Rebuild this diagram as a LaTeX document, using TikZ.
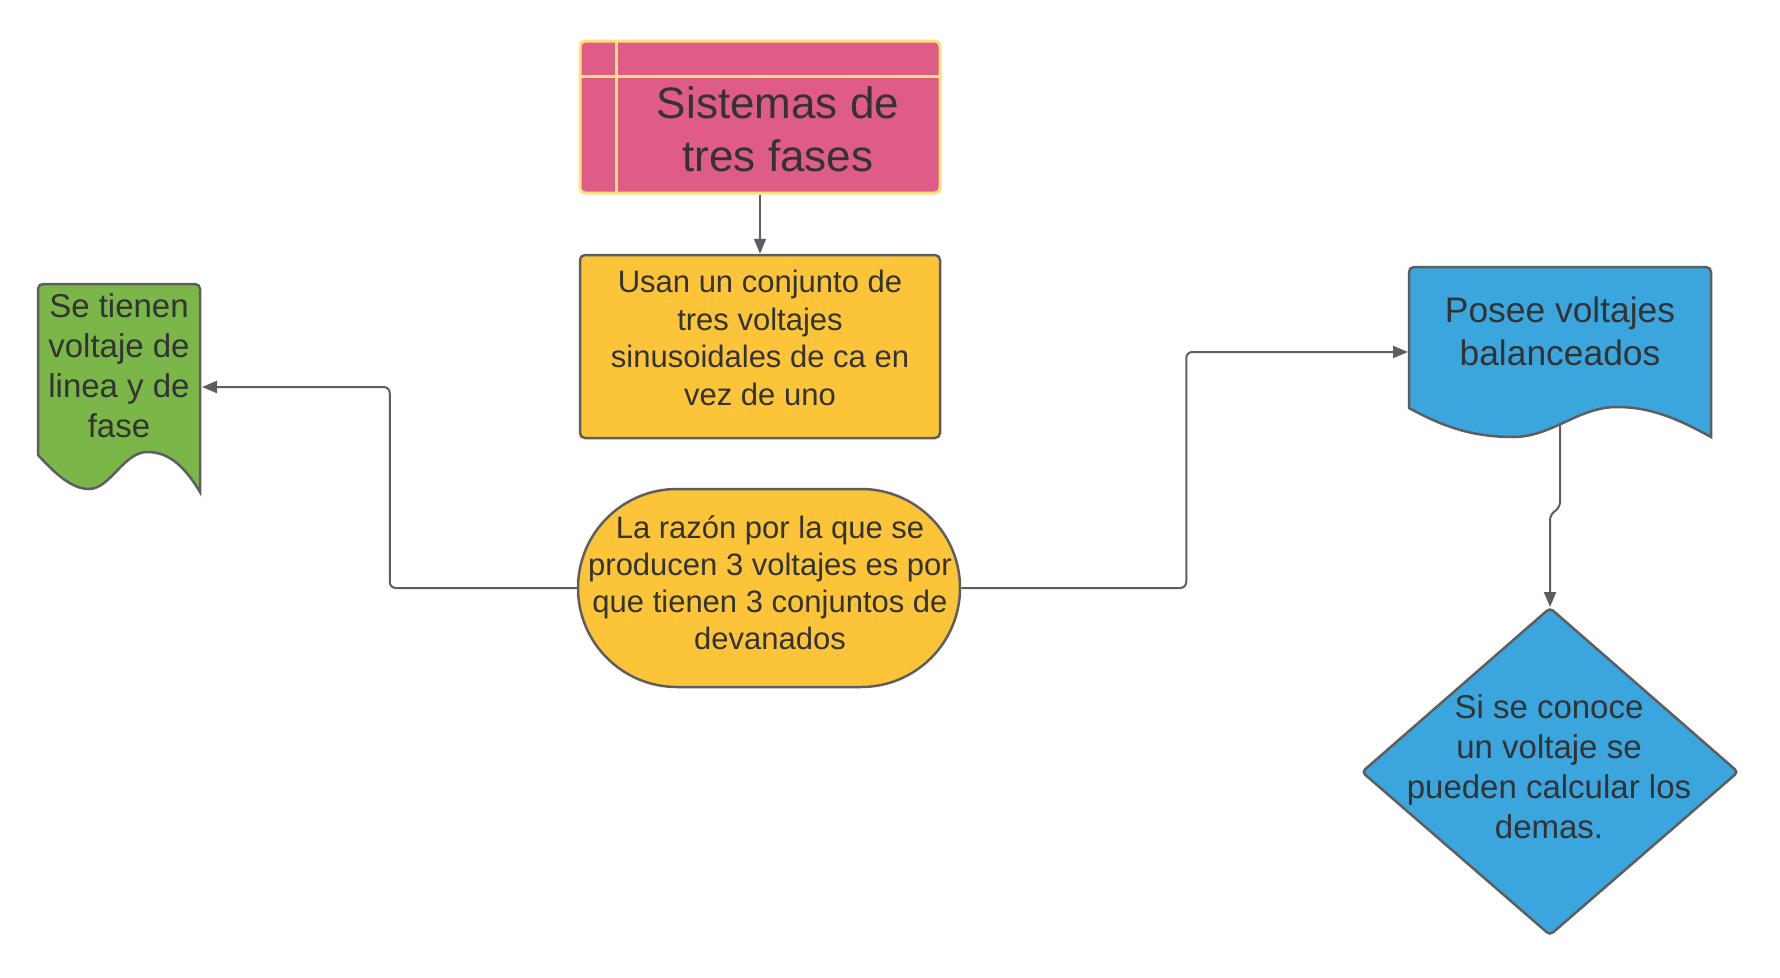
\documentclass[tikz,border=0pt]{standalone}
\usepackage{fontspec}
\setmainfont{Liberation Sans}
\usetikzlibrary{arrows.meta}
\definecolor{pinkf}{HTML}{DE5C85}
\definecolor{pinkb}{HTML}{FFDF80}
\definecolor{yel}{HTML}{FCC438}
\definecolor{grn}{HTML}{7AB648}
\definecolor{blu}{HTML}{3AA6DD}
\definecolor{edge}{HTML}{5E5E5E}
\definecolor{txt}{HTML}{333333}
\begin{document}
\begin{tikzpicture}[x=1pt,y=-1pt,
 shapeline/.style={draw=edge,line width=2.5pt},
 lbl/.style={text=txt,align=center,inner sep=0pt},
 conn/.style={draw=edge,line width=2pt,-{Triangle[length=15pt,width=12pt]}}]
\useasboundingbox[fill=white] (0,0) rectangle (1780,977);

% pink title box
\node[fill=pinkf, draw=pinkb, line width=3pt, rounded corners=5pt, minimum width=360pt, minimum height=152pt, inner sep=0pt] (sis) at (760,117) {};
\draw[pinkb, line width=3pt] (616,42) -- (616,192);
\draw[pinkb, line width=3pt] (581,76) -- (939,76);
\node[lbl, font=\fontsize{44}{53}\selectfont] (sist) at (778,129) {Sistemas de\\tres fases};

% yellow rectangle
\node[fill=yel, shapeline, rounded corners=5pt, minimum width=360pt, minimum height=183pt, inner sep=0pt] (usan) at (760,346.5) {};
\node[lbl, font=\fontsize{31}{37.5}\selectfont] (usant) at (760,338) {Usan un conjunto de\\tres voltajes\\sinusoidales de ca en\\vez de uno};

% stadium
\node[fill=yel, shapeline, rounded corners=99pt, minimum width=382pt, minimum height=198pt, inner sep=0pt] (stad) at (769,588) {};
\node[lbl, font=\fontsize{31}{37}\selectfont] (stadt) at (770,583) {La raz\'on por la que se\\producen 3 voltajes es por\\que tienen 3 conjuntos de\\devanados};

% green document
\draw[fill=grn, shapeline] (38,455) [rounded corners=5pt] -- (38,284) -- (200,284) [sharp corners] -- (200,492)
  .. controls (182,462) and (166,452) .. (147,452)
  .. controls (124,452) and (110,489) .. (89,489)
  .. controls (70,489) and (52,470) .. (38,455) -- cycle;
\node[lbl, font=\fontsize{33}{40}\selectfont] (gtxt) at (119,366) {Se tienen\\voltaje de\\linea y de\\fase};

% blue document
\draw[fill=blu, shapeline] (1409,408) [rounded corners=5pt] -- (1409,267) -- (1711,267) [sharp corners] -- (1711,437)
  .. controls (1680,420) and (1652,407) .. (1617,407)
  .. controls (1578,407) and (1552,437) .. (1513,437)
  .. controls (1470,437) and (1440,425) .. (1409,408) -- cycle;
\node[lbl, font=\fontsize{35.4}{43}\selectfont] (btxt) at (1560,331) {Posee voltajes\\balanceados};

% diamond
\draw[fill=blu, shapeline, rounded corners=4pt] (1550,608) -- (1738,772) -- (1550,935) -- (1362,772) -- cycle;
\node[lbl, font=\fontsize{33}{40}\selectfont] (dtxt) at (1549,767) {Si se conoce\\un voltaje se\\pueden calcular los\\demas.};

% connector endpoints
\coordinate (gin) at (202,387);
\coordinate (bin) at (1408,352);
\coordinate (bout) at (1560,423);
\coordinate (dtop) at (1550,607);

% connectors
\draw[conn] (sis.south) -- (usan.north);
\draw[conn, rounded corners=6pt] (stad.west) -- ++(-187,0) |- (gin);
\draw[conn, rounded corners=6pt] (stad.east) -- ++(225,0) |- (bin);
\draw[conn, rounded corners=5pt] (bout) -- ++(0,84) -- ++(-10,8) -- (dtop);
\end{tikzpicture}
\end{document}
